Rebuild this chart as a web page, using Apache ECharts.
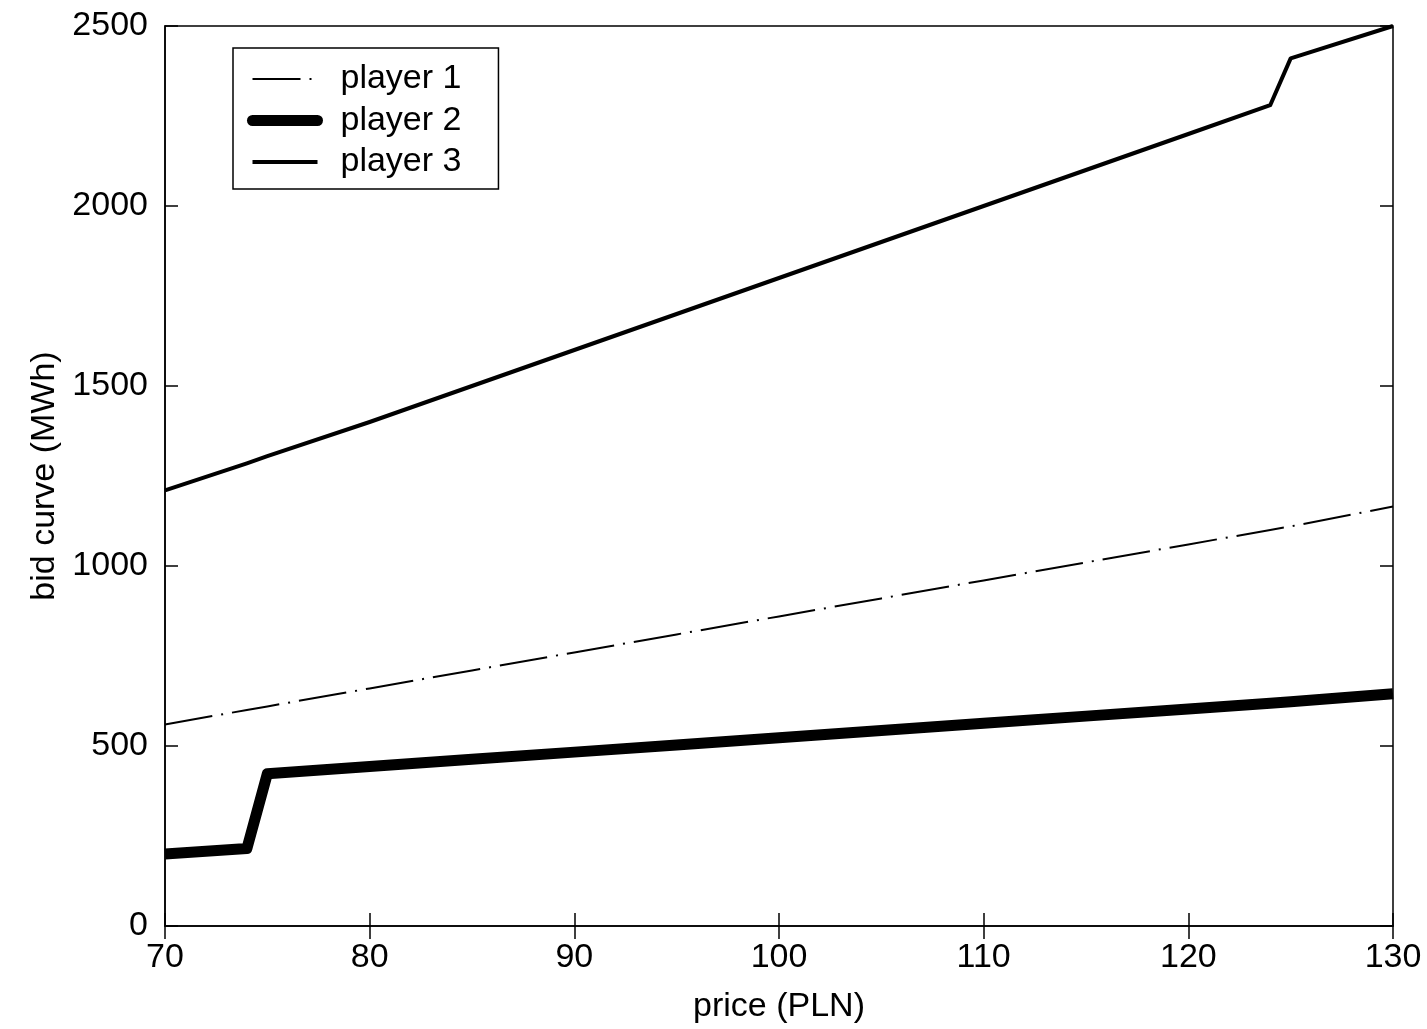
<!DOCTYPE html>
<html>
<head>
<meta charset="utf-8">
<title>bid curves</title>
<script src="https://cdn.jsdelivr.net/npm/echarts@6/dist/echarts.min.js"></script>
<style>
  html, body { margin: 0; padding: 0; background: #fff; }
  #chart { width: 1427px; height: 1029px; }
</style>
</head>
<body>
<div id="chart"></div>
<script>
// price points (PLN) shared by all three curves
const prices = [70, 74, 75, 80, 85, 90, 95, 100, 105, 110, 115, 120, 124, 125, 130];
// bid curves (MWh)
const player1 = [560, 600, 610, 660, 710, 760, 810, 860, 910, 960, 1010, 1060, 1100, 1110, 1165];
const player2 = [200, 215, 423, 443, 463, 483, 503, 523, 543, 563, 583, 603, 619, 623, 645];
const player3 = [1210, 1285, 1305, 1400, 1500, 1600, 1700, 1800, 1900, 2000, 2100, 2200, 2280, 2410, 2500];

const xTicks = [70, 80, 90, 100, 110, 120, 130];
const yTicks = [0, 500, 1000, 1500, 2000, 2500];

const font = '"Liberation Sans", Arial, Helvetica, sans-serif';
const pairs = (ys) => prices.map((p, i) => [p, ys[i]]);

const style1 = { color: '#000', width: 2, type: [48, 9, 2, 9] };
const style2 = { color: '#000', width: 11, cap: 'butt', join: 'round' };
const style3 = { color: '#000', width: 4, join: 'round' };

const chart = echarts.init(document.getElementById('chart'));

const tick = { show: true, inside: true, length: 13, lineStyle: { color: '#000', width: 1.5 } };

chart.setOption({
  animation: false,
  backgroundColor: '#fff',
  grid: {
    left: 165, right: 34, top: 26, bottom: 103,
    show: true, borderColor: '#000', borderWidth: 1.5
  },
  legend: {
    orient: 'vertical',
    left: 233, top: 48,
    padding: [14, 37, 10, 14],
    itemWidth: 65, itemHeight: 12, itemGap: 7.5,
    borderColor: '#000', borderWidth: 1.5, borderRadius: 0,
    backgroundColor: '#fff',
    itemStyle: { opacity: 0 },
    textStyle: { fontFamily: font, fontSize: 34, color: '#000', lineHeight: 34, padding: [0, 0, 0, 18] },
    data: [
      { name: 'player 1', lineStyle: style1 },
      { name: 'player 2', lineStyle: Object.assign({}, style2, { cap: 'round' }) },
      { name: 'player 3', lineStyle: style3 }
    ]
  },
  xAxis: [
    {
      type: 'value', min: 70, max: 130, interval: 10,
      name: 'price (PLN)', nameLocation: 'middle', nameGap: 64,
      nameTextStyle: { fontFamily: font, fontSize: 34, color: '#000' },
      axisLine: { show: true, lineStyle: { color: '#000', width: 1.5 } },
      axisTick: tick,
      axisLabel: {
        fontFamily: font, fontSize: 34, color: '#000', margin: 15,
        formatter: (v) => (xTicks.includes(v) ? String(v) : '')
      },
      splitLine: { show: false }
    },
    {
      type: 'value', position: 'top', min: 70, max: 130, interval: 10,
      axisLine: { show: false }, axisTick: tick, axisLabel: { show: false }, splitLine: { show: false }
    }
  ],
  yAxis: [
    {
      type: 'value', min: 0, max: 2500, interval: 500,
      name: 'bid curve (MWh)', nameLocation: 'middle', nameGap: 102,
      nameTextStyle: { fontFamily: font, fontSize: 34, color: '#000' },
      axisLine: { show: true, lineStyle: { color: '#000', width: 1.5 } },
      axisTick: tick,
      axisLabel: {
        fontFamily: font, fontSize: 34, color: '#000', margin: 17,
        formatter: (v) => (yTicks.includes(v) ? String(v) : '')
      },
      splitLine: { show: false }
    },
    {
      type: 'value', position: 'right', min: 0, max: 2500, interval: 500,
      axisLine: { show: false }, axisTick: tick, axisLabel: { show: false }, splitLine: { show: false }
    }
  ],
  series: [
    {
      name: 'player 1', type: 'line', data: pairs(player1),
      symbol: 'none', color: '#000', lineStyle: style1
    },
    {
      name: 'player 2', type: 'line', data: pairs(player2),
      symbol: 'none', color: '#000', lineStyle: style2
    },
    {
      name: 'player 3', type: 'line', data: pairs(player3),
      symbol: 'none', color: '#000', lineStyle: style3
    }
  ]
});
</script>
</body>
</html>
